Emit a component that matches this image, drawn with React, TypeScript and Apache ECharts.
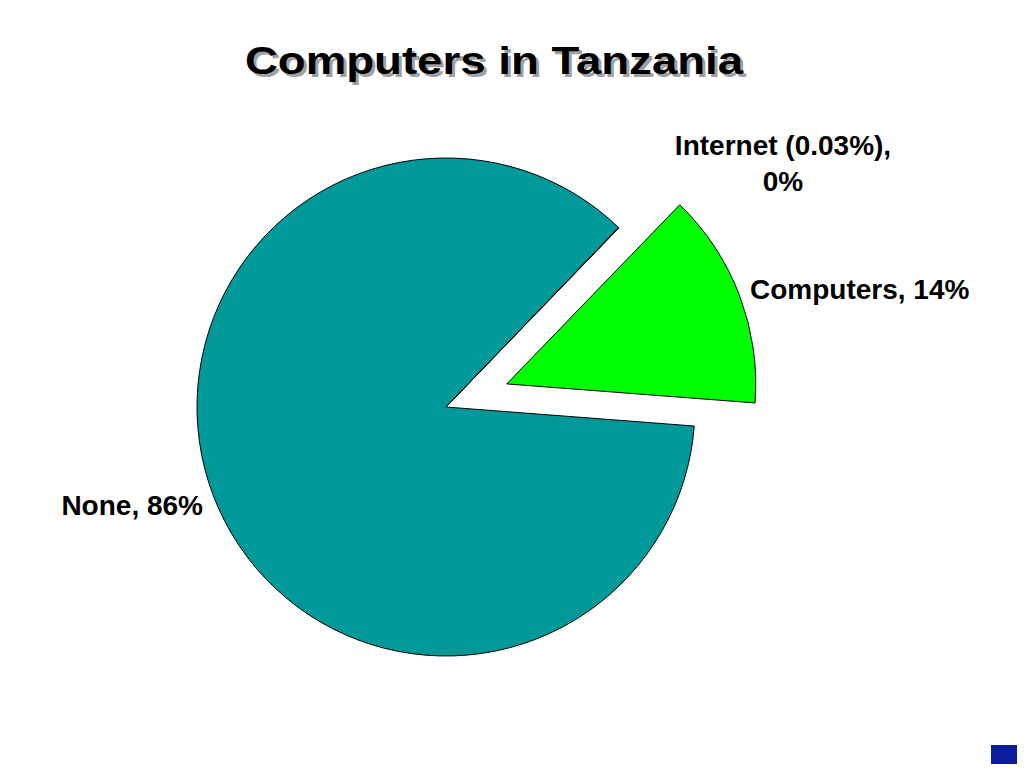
import React, { useEffect, useRef } from "react";
import * as echarts from "echarts";

const titleText = "Computers in Tanzania";
const sliceNames = ["Computers", "None", "Internet (0.03%)"];
const sliceValues = [14, 86, 0.03];
const sliceLabels = ["Computers, 14%", "None, 86%", "Internet (0.03%),\n0%"];
const sliceColors = ["#00ff00", "#009999", "#333399"];
const explodedSlice = [true, false, false];

export default function App() {
  const ref = useRef<HTMLDivElement>(null);

  useEffect(() => {
    document.body.style.margin = "0";
    const chart = echarts.init(ref.current!, undefined, { renderer: "svg" });

    const labelPlaces = [
      { x: 750, y: 289, align: "left", verticalAlign: "middle" },
      { x: 203, y: 505, align: "right", verticalAlign: "middle" },
      { x: 783, y: 163, align: "center", verticalAlign: "middle" },
    ];

    const font = "'Liberation Sans', Arial, Helvetica, sans-serif";
    const center = [446, 407];
    const radius = 249;
    const startAngle = 46;
    const explodeDist = 65;

    // direction of the exploded slice (middle angle of its wedge)
    const total = sliceValues.reduce((a, b) => a + b, 0);
    let acc = 0;
    const midAngles = sliceValues.map((v) => {
      const a0 = startAngle - (acc / total) * 360;
      acc += v;
      const a1 = startAngle - (acc / total) * 360;
      return ((a0 + a1) / 2) * (Math.PI / 180);
    });

    const makeSeries = (exploded: boolean) => {
      const idx = sliceNames.findIndex((_, i) => explodedSlice[i]);
      const c = exploded
        ? [center[0] + explodeDist * Math.cos(midAngles[idx]), center[1] - explodeDist * Math.sin(midAngles[idx])]
        : center;
      return {
        type: "pie",
        center: c,
        radius,
        startAngle,
        clockwise: true,
        silent: true,
        avoidLabelOverlap: false,
        emphasis: { disabled: true },
        label: {
          show: true,
          position: "outside",
          fontFamily: font,
          fontWeight: "bold",
          fontSize: 28,
          lineHeight: 36,
          color: "#000000",
          align: "center",
          formatter: (p: any) => sliceLabels[p.dataIndex],
        },
        labelLine: { show: false },
        labelLayout: (params: any) => labelPlaces[params.dataIndex],
        data: sliceNames.map((name, i) => {
          const visible = explodedSlice[i] === exploded;
          return {
            name,
            value: sliceValues[i],
            itemStyle: visible
              ? { color: sliceColors[i], borderColor: "#000000", borderWidth: 1 }
              : { color: "rgba(0,0,0,0)", borderWidth: 0 },
            label: { show: visible },
          };
        }),
      };
    };

    chart.setOption({
      animation: false,
      backgroundColor: "#ffffff",
      graphic: [
        {
          type: "text",
          x: 497,
          y: 64,
          scaleX: 1.2,
          silent: true,
          style: {
            text: titleText,
            fill: "#a0a0a0",
            font: `bold 38px ${font}`,
            textAlign: "center",
            textVerticalAlign: "middle",
          },
        },
        {
          type: "text",
          x: 494,
          y: 61,
          scaleX: 1.2,
          silent: true,
          style: {
            text: titleText,
            fill: "#000000",
            font: `bold 38px ${font}`,
            textAlign: "center",
            textVerticalAlign: "middle",
          },
        },
        {
          type: "rect",
          silent: true,
          shape: { x: 991, y: 745, width: 26, height: 19 },
          style: { fill: "#0a1e9c" },
        },
      ],
      series: [makeSeries(false), makeSeries(true)],
    });

    return () => chart.dispose();
  }, []);

  return (
    <div
      ref={ref}
      style={{ position: "fixed", left: 0, top: 0, width: 1024, height: 768 }}
    />
  );
}
